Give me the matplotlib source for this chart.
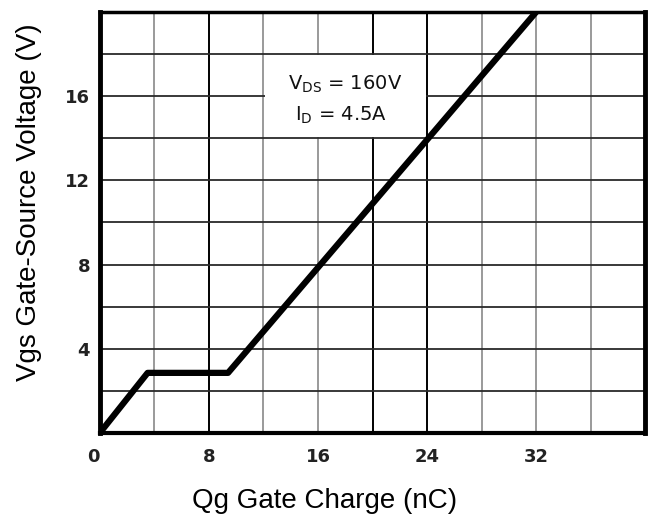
import numpy as np
import matplotlib.pyplot as plt

# Gate charge curve
qg = [0.0, 3.5, 9.4, 32.0]      # nC
vgs = [0.0, 2.85, 2.85, 20.0]   # V

x_ticks = [0, 8, 16, 24, 32]
y_ticks = [4, 8, 12, 16]
x_grid = [4, 8, 12, 16, 20, 24, 28, 32, 36]
y_grid = [2, 4, 6, 8, 10, 12, 14, 16, 18]
dark_x = [8, 20, 24]

fig = plt.figure(figsize=(6.53, 5.24), dpi=100)
ax = fig.add_axes([0.153, 0.174, 0.835, 0.803])
ax.set_xlim(0, 40)
ax.set_ylim(0, 20)

# grid, mixed dark / grey like the scanned original
for xv in x_grid:
    c = 'black' if xv in dark_x else '#9a9a9a'
    ax.axvline(xv, color=c, linewidth=1.4, zorder=1)
for yv in y_grid:
    ax.axhline(yv, color='#2a2a2a', linewidth=1.3, zorder=1)

# white box behind the condition text (grid lines on its edges stay visible)
ax.fill_between([12.08, 23.92], 14.06, 17.94, color='white', zorder=2, linewidth=0)
ax.text(18.0, 16.58, r'V$_{\mathrm{DS}}$ = 160V', ha='center', va='center',
        fontsize=14, color='#111111', zorder=3)
ax.text(17.7, 15.1, r'I$_{\mathrm{D}}$ = 4.5A', ha='center', va='center',
        fontsize=14, color='#111111', zorder=3)

ax.plot(qg, vgs, color='black', linewidth=4.5, solid_capstyle='butt', zorder=4)

ax.set_xticks(x_ticks)
ax.set_yticks(y_ticks)
ax.tick_params(length=0, labelsize=13, labelcolor='#222222')
ax.tick_params(axis='x', pad=11)
ax.tick_params(axis='y', pad=7)
for lab in ax.get_xticklabels() + ax.get_yticklabels():
    lab.set_fontweight('bold')
ax.get_xticklabels()[0].set_horizontalalignment('right')

for side, lw in [('left', 3.5), ('bottom', 3.0), ('top', 2.5), ('right', 3.5)]:
    ax.spines[side].set_linewidth(lw)
    ax.spines[side].set_zorder(5)

fig.text(0.497, 0.044, 'Qg Gate Charge (nC)', ha='center', va='center',
         fontsize=20, family='Liberation Sans')
fig.text(0.044, 0.615, 'Vgs Gate-Source Voltage (V)', ha='center', va='center',
         rotation=90, fontsize=20, family='Liberation Sans')

fig.savefig('out.png', dpi=100)
